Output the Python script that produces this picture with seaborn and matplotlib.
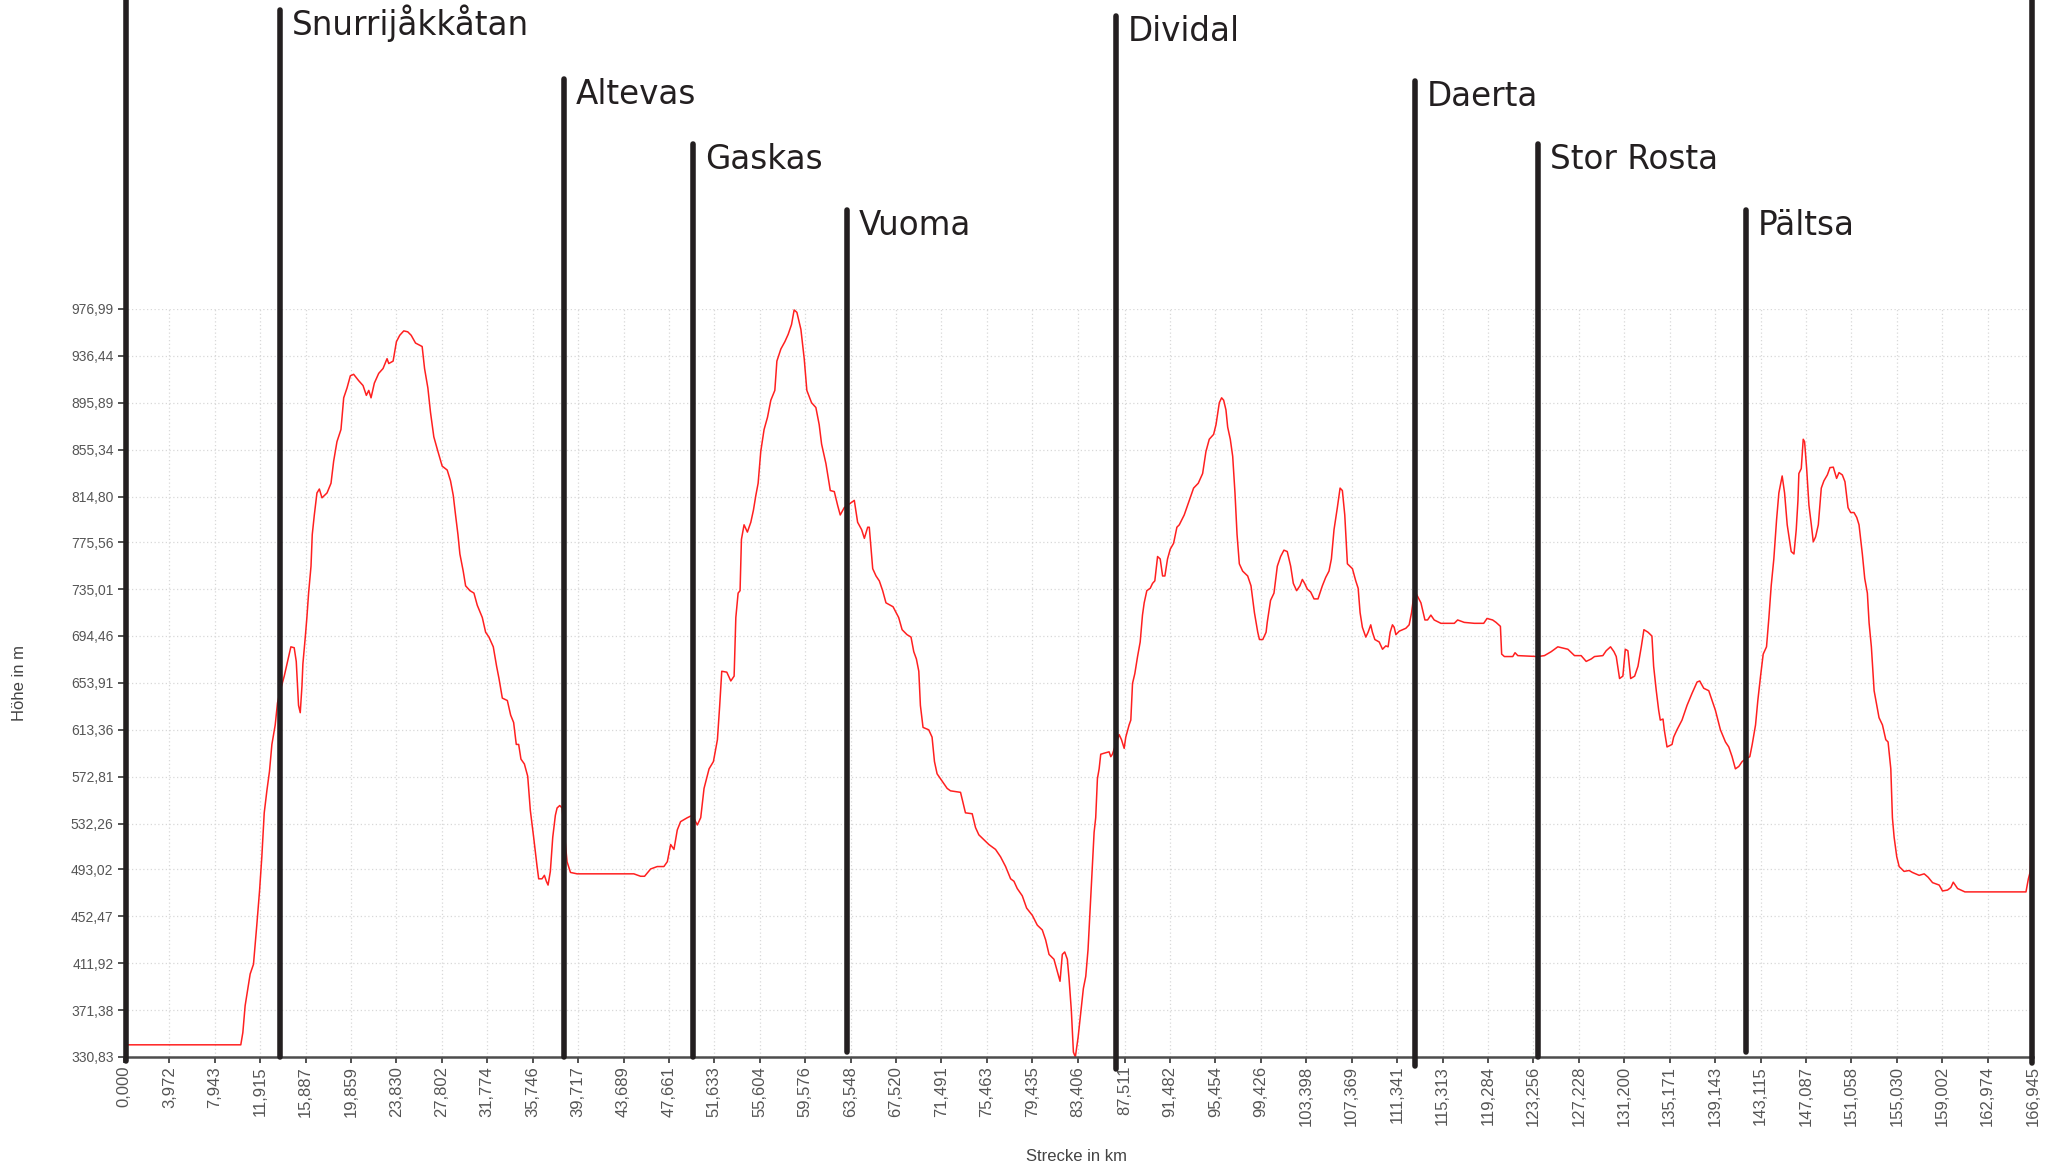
import matplotlib
matplotlib.use("Agg")
import matplotlib.pyplot as plt
import seaborn as sns
import pandas as pd

# elevation profile (km, m)
profile_km = [
    0.00, 10.22, 10.40, 10.60, 11.04, 11.33, 11.62, 11.86, 12.06, 12.27, 12.50, 12.73, 12.94, 13.23, 13.43,
    13.67, 14.02, 14.31, 14.60, 14.89, 15.07, 15.27, 15.42, 15.57, 15.65, 15.86, 16.00, 16.15, 16.36, 16.47,
    16.65, 16.88, 17.09, 17.32, 17.76, 18.11, 18.34, 18.63, 18.98, 19.22, 19.51, 19.80, 20.09, 20.53, 20.91,
    21.20, 21.41, 21.61, 21.90, 22.28, 22.66, 23.01, 23.16, 23.54, 23.83, 24.12, 24.47, 24.82, 25.12, 25.50,
    26.08, 26.29, 26.58, 26.81, 27.10, 27.40, 27.83, 28.27, 28.56, 28.80, 29.00, 29.21, 29.38, 29.67, 29.88,
    30.26, 30.61, 30.90, 31.34, 31.63, 31.92, 32.30, 32.59, 32.80, 33.09, 33.53, 33.82,
    34.08, 34.31, 34.52, 34.72, 35.02, 35.31, 35.54, 35.83, 36.13, 36.27, 36.56, 36.77, 36.94, 37.09, 37.29,
    37.50, 37.73, 37.88, 38.11, 38.32, 38.75, 39.05, 39.63, 44.59, 45.18, 45.53, 46.06, 46.64, 47.22, 47.52,
    47.81, 48.10, 48.39, 48.68, 49.27, 49.71, 50.14, 50.44, 50.73, 51.17, 51.55, 51.90, 52.10, 52.28, 52.72,
    53.07, 53.36, 53.51, 53.71, 53.88, 54.00, 54.23, 54.52, 54.82, 55.05, 55.26, 55.46, 55.69, 55.98, 56.28,
    56.57, 56.92, 57.10, 57.45, 57.80, 58.09, 58.38, 58.61, 58.85, 59.20, 59.49, 59.72, 60.13, 60.51, 60.80,
    61.01, 61.39, 61.77, 62.12, 62.41, 62.64, 62.99, 63.29, 63.87, 64.16, 64.51, 64.75, 65.04, 65.18, 65.48,
    65.77, 66.06, 66.35, 66.64,
    67.26, 67.75, 68.05, 68.48, 68.83, 69.07, 69.30, 69.51, 69.65, 69.88, 70.38, 70.67, 70.88, 71.11, 71.55,
    71.99, 72.28, 73.16, 73.39, 73.59, 74.18, 74.47, 74.76, 75.20, 75.64, 76.22, 76.66, 77.10, 77.54, 77.83,
    78.12, 78.56, 78.94, 79.44, 79.87, 80.31, 80.60, 80.90, 81.33, 81.63, 81.86, 82.06, 82.27, 82.50, 82.65,
    82.85, 83.03, 83.20, 83.44, 83.67, 83.90, 84.11, 84.31, 84.55, 84.69, 84.84, 84.98, 85.13, 85.28, 85.42,
    85.71, 86.15, 86.30, 86.44, 87.03, 87.23, 87.47, 87.61, 87.90, 88.05, 88.20, 88.40, 88.64, 88.87, 89.07,
    89.22, 89.45, 89.75, 89.95, 90.15, 90.39, 90.62, 90.83, 91.03, 91.26, 91.50, 91.79, 92.08, 92.29, 92.72,
    93.16, 93.54, 93.95, 94.33, 94.62, 94.91, 95.29, 95.50, 95.79, 95.99, 96.17, 96.37, 96.52, 96.75, 96.96,
    97.16, 97.34, 97.54, 97.83, 98.27, 98.56, 98.86, 99.15, 99.30, 99.59, 99.88,
    99.98, 100.27, 100.57, 100.86, 101.15, 101.44, 101.73, 102.03, 102.26, 102.55, 102.84, 103.05, 103.25,
    103.49, 103.78, 104.07, 104.42, 104.80, 105.09, 105.38, 105.59, 105.82, 106.11, 106.35, 106.55, 106.76,
    106.99, 107.43, 107.72, 107.93, 108.10, 108.30, 108.60, 108.80, 109.03, 109.18, 109.39, 109.77, 110.06,
    110.35, 110.55, 110.73, 110.93, 111.08, 111.23, 111.52, 112.10, 112.39, 112.60, 112.77, 112.98, 113.42,
    113.77, 114.00, 114.29, 114.58, 115.17, 116.34, 116.63, 117.21, 118.09, 118.91, 119.20, 119.69, 119.99,
    120.37, 120.48, 120.72, 121.45, 121.65, 121.89, 123.64, 124.22, 124.81, 125.39, 126.27, 126.85, 127.43,
    127.87, 128.31, 128.60, 129.33, 129.62, 130.00, 130.30, 130.50, 130.79, 131.08, 131.29, 131.52, 131.76,
    132.11, 132.40, 132.69, 132.92, 133.28,
    133.62, 133.77, 134.00, 134.21, 134.35, 134.59, 134.70, 134.94, 135.38, 135.52, 135.81, 136.25, 136.69,
    137.13, 137.57, 137.80, 138.15, 138.59, 138.88, 139.17, 139.61, 140.05, 140.34, 140.63, 140.92, 141.22,
    141.51, 141.80, 142.18, 142.39, 142.68, 142.88, 143.12, 143.35, 143.64, 143.85, 144.05, 144.28, 144.52,
    144.72, 145.01, 145.22, 145.45, 145.80, 146.04, 146.24, 146.39, 146.47, 146.68, 146.85, 146.97, 147.15,
    147.35, 147.56, 147.73, 147.93, 148.17, 148.43, 148.66, 148.96, 149.19, 149.48, 149.77, 149.98, 150.27,
    150.50, 150.77, 151.00, 151.29, 151.53, 151.73, 152.02, 152.23, 152.46, 152.61, 152.81, 153.05, 153.28,
    153.48, 153.78, 154.07, 154.27, 154.51, 154.65, 154.80, 155.03, 155.24, 155.67, 156.11, 156.40, 156.99,
    157.43, 157.78, 158.16, 158.74, 159.03, 159.47, 159.76, 159.97, 160.35, 160.99, 161.81, 166.33, 166.54,
    166.71, 166.83,
]
profile_m = [
    341.3, 341.3, 351.9, 375.1, 402.5, 410.9, 444.7, 474.2, 503.7, 541.7, 560.7, 577.6, 600.8, 617.6, 636.6,
    647.2, 659.8, 672.5, 685.1, 684.3, 672.5, 634.5, 628.2, 651.4, 670.3, 693.5, 710.4, 731.5, 754.7, 782.1,
    799.0, 818.0, 821.4, 813.8, 818.0, 826.4, 845.4, 862.3, 872.8, 900.2, 908.7, 919.2, 920.5, 915.0, 910.8,
    902.3, 906.6, 900.2, 912.9, 921.3, 925.5, 934.0, 929.8, 931.9, 948.7, 954.2, 958.0, 957.2, 954.2, 947.5,
    944.5, 925.5, 908.7, 887.6, 866.5, 855.9, 841.2, 837.8, 828.5, 815.9, 799.0, 782.1, 765.3, 750.5, 737.8,
    733.6, 731.5, 721.0, 710.4, 697.7, 693.5, 685.1, 668.3, 657.7, 640.8, 638.7, 626.1,
    619.7, 600.8, 600.8, 588.1, 583.9, 573.3, 543.8, 520.6, 495.3, 484.7, 484.7, 487.7, 482.6, 479.3, 491.1,
    520.6, 539.6, 545.9, 548.0, 545.9, 499.5, 490.2, 489.0, 489.0, 486.9, 486.9, 493.2, 495.3, 495.3, 499.5,
    514.3, 510.1, 526.9, 534.1, 537.5, 539.6, 531.2, 537.5, 562.8, 579.7, 586.0, 604.9, 634.5, 664.0, 663.2,
    655.6, 659.8, 710.4, 731.5, 733.6, 777.9, 790.5, 784.2, 792.7, 803.2, 815.9, 826.4, 853.8, 872.8, 883.4,
    898.1, 906.6, 931.9, 942.4, 948.7, 955.1, 963.5, 976.1, 974.0, 959.3, 934.0, 906.6, 896.0, 891.8, 877.0,
    860.2, 843.3, 820.1, 819.2, 807.4, 799.0, 805.3, 807.4, 811.6, 792.7, 786.3, 778.8, 788.4, 788.4, 752.6,
    746.3, 742.0, 733.6, 723.1,
    719.7, 710.4, 699.9, 695.6, 693.5, 680.9, 674.6, 664.0, 634.5, 615.5, 613.4, 607.1, 586.0, 575.4, 569.1,
    562.8, 560.7, 559.4, 550.1, 541.7, 540.9, 529.0, 522.7, 518.5, 514.3, 510.1, 503.7, 495.3, 484.7, 482.6,
    476.3, 470.0, 459.4, 453.1, 444.7, 440.5, 432.0, 419.4, 415.2, 404.6, 396.2, 419.4, 421.5, 415.2, 398.3,
    370.9, 335.0, 330.8, 347.7, 368.8, 389.9, 400.4, 423.6, 470.0, 497.4, 524.8, 537.5, 571.2, 579.7, 592.3,
    593.2, 594.4, 590.2, 592.3, 609.2, 605.0, 597.4, 607.1, 617.6, 621.8, 653.5, 661.9, 676.7, 689.3, 712.5,
    723.1, 733.6, 735.7, 739.9, 742.1, 763.1, 761.0, 746.3, 746.3, 761.0, 769.5, 774.5, 788.4, 790.5, 799.0,
    811.6, 822.2, 826.4, 834.8, 853.8, 864.4, 868.6, 877.0, 896.0, 900.2, 898.1, 889.7, 874.9, 864.4, 849.6,
    817.9, 782.1, 756.8, 750.5, 746.3, 737.8, 714.6, 697.7, 691.4, 691.4, 697.7,
    706.2, 725.2, 731.5, 754.7, 763.1, 768.6, 767.4, 754.7, 739.9, 733.6, 737.8, 743.3, 739.9,
    734.9, 732.4, 726.5, 726.5, 737.8, 745.0, 750.5, 761.0, 786.3, 805.3, 822.2, 820.1, 799.0,
    756.8, 752.6, 742.1, 735.7, 714.6, 702.0, 693.5, 697.7, 704.1, 697.7, 691.4, 689.3, 683.0,
    685.9, 685.1, 697.7, 704.1, 702.0, 695.6, 698.6, 701.1, 704.1, 714.6, 727.3, 731.5, 723.1,
    708.3, 708.3, 712.5, 708.3, 705.4, 705.4, 708.3, 706.2, 705.4, 705.4, 709.6, 708.3, 706.2,
    702.8, 678.8, 676.7, 676.7, 680.0, 677.5, 676.7, 677.5, 680.9, 685.1, 683.0, 677.5, 677.5,
    672.5, 674.6, 676.7, 677.5, 681.7, 685.1, 680.9, 676.7, 657.7, 659.8, 683.0, 681.7, 657.7,
    659.8, 668.3, 685.1, 699.9, 697.7,
    694.4, 668.3, 647.2, 630.3, 621.8, 622.7, 613.4, 598.6, 600.8, 607.1, 613.4, 621.8, 634.5,
    645.0, 654.7, 655.6, 649.3, 647.2, 638.7, 630.3, 613.4, 602.9, 598.6, 590.2, 579.7, 581.8,
    586.0, 588.1, 590.2, 600.8, 617.6, 638.7, 659.8, 678.8, 685.1, 710.4, 737.8, 761.0, 794.8,
    818.0, 832.7, 818.0, 790.5, 767.4, 765.3, 786.3, 811.6, 834.8, 839.1, 864.4, 862.3, 839.1,
    807.4, 790.5, 775.8, 780.0, 790.5, 822.2, 828.5, 833.6, 839.9, 840.3, 830.6, 835.6, 833.6,
    827.7, 805.3, 801.1, 801.1, 796.9, 790.5, 765.3, 744.1, 731.5, 705.8, 685.1, 647.2, 634.5,
    623.9, 617.6, 604.9, 602.9, 579.7, 537.5, 520.6, 503.7, 495.3, 491.1, 491.9, 490.2, 487.7,
    489.0, 486.0, 481.4, 479.3, 474.2, 475.0, 477.2, 481.8, 476.3, 473.4, 473.4, 473.4, 484.7,
    491.1, 541.7,
]

waypoint_names = ["", "Snurrijåkkåtan", "Altevas", "Gaskas", "Vuoma", "Dividal", "Daerta", "Stor Rosta", "Pältsa", ""]
waypoint_km = [0.2, 13.65, 38.45, 49.8, 63.25, 86.75, 112.9, 123.65, 141.85, 166.9]

x_ticks = [0.000, 3.972, 7.943, 11.915, 15.887, 19.859, 23.830, 27.802, 31.774, 35.746, 39.717, 43.689,
           47.661, 51.633, 55.604, 59.576, 63.548, 67.520, 71.491, 75.463, 79.435, 83.406, 87.511, 91.482,
           95.454, 99.426, 103.398, 107.369, 111.341, 115.313, 119.284, 123.256, 127.228, 131.200, 135.171,
           139.143, 143.115, 147.087, 151.058, 155.030, 159.002, 162.974, 166.945]
y_ticks = [330.83, 371.38, 411.92, 452.47, 493.02, 532.26, 572.81, 613.36, 653.91, 694.46, 735.01,
           775.56, 814.80, 855.34, 895.89, 936.44, 976.99]

# marker line extents in axes fractions
line_top = [1.42, 1.400, 1.307, 1.221, 1.132, 1.392, 1.305, 1.221, 1.132, 1.42]
line_bottom = [-0.005, 0.0, 0.0, 0.0, 0.007, -0.016, -0.012, 0.0, 0.007, -0.008]

sns.set_style("white")
plt.rcParams["font.family"] = ["Liberation Sans", "DejaVu Sans"]

fig = plt.figure(figsize=(20.55, 11.71), dpi=100)
ax = fig.add_axes([0.0603, 0.0974, 0.9290, 0.6388])

df = pd.DataFrame({"km": profile_km, "m": profile_m})
sns.lineplot(data=df, x="km", y="m", ax=ax, color="#ff2020", linewidth=1.1,
             estimator=None, sort=False, zorder=2)

ax.set_xlim(0, 166.945)
ax.set_ylim(330.83, 976.99)
ax.set_xticks(x_ticks)
ax.set_xticklabels([f"{v:.3f}".replace(".", ",") for v in x_ticks], rotation=90)
ax.set_yticks(y_ticks)
ax.set_yticklabels([f"{v:.2f}".replace(".", ",") for v in y_ticks])
ax.tick_params(axis="x", bottom=True, direction="out", length=4.5, width=1.3, color="#444444",
               labelsize=12, labelcolor="#555555", pad=2)
ax.tick_params(axis="y", left=True, direction="out", length=4.5, width=1.3, color="#444444",
               labelsize=10, labelcolor="#555555", pad=3)
ax.set_xlabel("")
ax.set_ylabel("")

ax.grid(True, linestyle=(0, (1, 2)), color="#d8d8d8", linewidth=0.9)
ax.set_axisbelow(True)
for side in ["top", "left", "right"]:
    ax.spines[side].set_visible(False)
ax.spines["bottom"].set_color("#4d4d4d")
ax.spines["bottom"].set_linewidth(1.8)

for name, km, top, bottom in zip(waypoint_names, waypoint_km, line_top, line_bottom):
    ax.axvline(km, ymin=bottom, ymax=top, color="#231f20", linewidth=4, clip_on=False, zorder=5)
    if name:
        ax.annotate(name, xy=(km, top), xycoords=ax.get_xaxis_transform(),
                    xytext=(12, -25), textcoords="offset pixels",
                    ha="left", va="baseline", fontsize=23.5, color="#231f20",
                    family=["DejaVu Sans"], annotation_clip=False)

fig.text(20 / 2055, 0.4167, "Höhe in m", rotation=90, ha="center", va="center",
         fontsize=12, color="#444444")
fig.text(1077 / 2055, 0.012, "Strecke in km", ha="center", va="center",
         fontsize=12, color="#444444")

fig.savefig("out.png", dpi=100)
